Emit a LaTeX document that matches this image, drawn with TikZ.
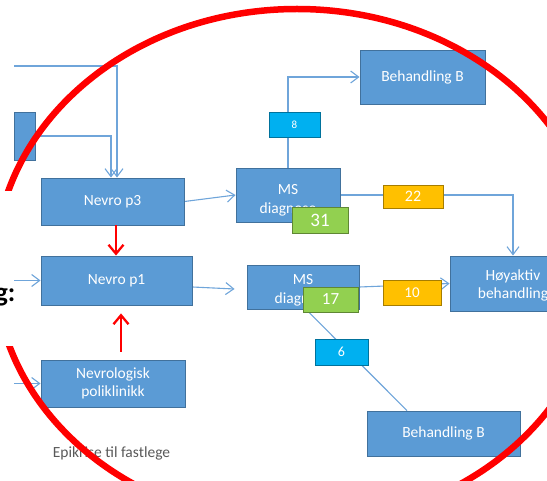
\documentclass[tikz,border=0pt]{standalone}
\usepackage{fontspec}
\setmainfont{Carlito}
\usetikzlibrary{arrows.meta,backgrounds}
\definecolor{boxfill}{HTML}{5B9BD5}
\definecolor{boxline}{HTML}{41719C}
\definecolor{connc}{HTML}{6FA5DA}
\definecolor{cyanbox}{HTML}{00B0F0}
\definecolor{yelbox}{HTML}{FFC000}
\definecolor{grnbox}{HTML}{92D050}
\definecolor{redc}{HTML}{FF0000}
\definecolor{epic}{HTML}{595959}
\begin{document}
\begin{tikzpicture}[x=1pt,y=-1pt,
  bluebox/.style={draw=boxline, fill=boxfill, line width=0.9pt, text=white, inner sep=0pt, align=center, font=\fontsize{15.5}{18.5}\selectfont},
  tagbox/.style={draw=#1!65!black, fill=#1, line width=0.9pt, text=white, inner sep=0pt, align=center},
  conn/.style={draw=connc, line width=1.1pt},
  arr/.style={-{Straight Barb[length=8pt,width=12pt,line width=1.1pt]}},
  redarr/.style={draw=redc, line width=2.3pt, -{Straight Barb[length=9pt,width=15pt,line width=2.3pt]}}
]
\useasboundingbox (0,0) rectangle (547,481);
% nodes
\node[bluebox, minimum width=21pt, minimum height=48pt] (lb) at (24.5,136) {};
\node[bluebox, minimum width=143pt, minimum height=47pt] (p3) at (112.5,201.5) {Nevro p3};
\node[bluebox, minimum width=151pt, minimum height=49pt] (p1) at (116.5,280.5) {Nevro p1};
\node[bluebox, minimum width=144pt, minimum height=47pt] (poli) at (113,383.5) {Nevrologisk\\poliklinikk};
\node[bluebox, minimum width=104pt, minimum height=54pt] (ms1) at (288,195) {\rule{0pt}{21pt}MS\\diagnose};
\node[bluebox, minimum width=112pt, minimum height=44pt] (ms2) at (303,287) {\rule{0pt}{17pt}MS\\diagnose};
\node[bluebox, minimum width=126pt, minimum height=55pt] (hoy) at (513,283.5) {\rule{0pt}{15pt}Høyaktiv\\behandling};
\node[bluebox, minimum width=125pt, minimum height=54pt] (bb1) at (422.5,77) {Behandling B};
\node[bluebox, minimum width=153pt, minimum height=45pt] (bb2) at (443.5,433.5) {Behandling B};
\coordinate (in1) at (14,66);
\coordinate (in2) at (14,280.5);
\coordinate (in3) at (14,383.5);
% tag boxes
\node[tagbox=cyanbox, minimum width=51pt, minimum height=25pt, font=\fontsize{11}{13}\selectfont] (t8) at (294.5,124.5) {8};
\node[tagbox=grnbox, minimum width=56pt, minimum height=26pt, font=\fontsize{19}{21}\selectfont] (t31) at (320,220) {31};
\node[tagbox=yelbox, minimum width=60pt, minimum height=23pt, font=\fontsize{16}{18}\selectfont] (t22) at (413,196.5) {22};
\node[tagbox=yelbox, minimum width=58pt, minimum height=25pt, font=\fontsize{15}{17}\selectfont] (t10) at (412,292.5) {10};
\node[tagbox=grnbox, minimum width=55pt, minimum height=25pt, font=\fontsize{17}{19}\selectfont] (t17) at (330.5,299.5) {17};
\node[tagbox=cyanbox, minimum width=53pt, minimum height=26pt, font=\fontsize{14}{16}\selectfont] (t6) at (341.5,352) {6};
% connectors behind boxes
\begin{scope}[on background layer]
\draw[conn, arr] (in1) -| ([xshift=4.5pt]p3.north);
\draw[conn, arr] (lb.east) -| ([xshift=-1.5pt]p3.north);
\draw[conn, arr] (p3.east) -- (ms1.west);
\draw[conn, arr] (ms1.north) |- (bb1.west);
\draw[conn, arr] (ms1.east) -| (hoy.north);
\draw[conn, arr] ([yshift=-6.5pt]p1.east) -- ([xshift=-12pt,yshift=-2pt]ms2.west);
\draw[conn, arr] (ms2.east) -- (hoy.west);
\draw[conn] ([xshift=3pt]ms2.south) -- ([xshift=-36.5pt]bb2.north);
\draw[conn, arr] (in3) -- (poli.west);
\end{scope}
% red arrows
\draw[redarr] ([xshift=3.5pt]p3.south) -- ([xshift=-0.5pt]p1.north);
\draw[redarr] ([xshift=8pt,yshift=8pt]poli.north) -- ([xshift=4.5pt,yshift=-8pt]p1.south);
% caption
\node[text=epic, font=\fontsize{15.5}{18}\selectfont] (epi) at (111.5,453) {Epikrise til fastlege};
% red ellipse
\draw[redc, line width=6.5pt] (297,267) ellipse [x radius=302, y radius=258];
% white cover at left edge
\fill[white] (-2,191) rectangle (39,346);
\node[anchor=base east, inner sep=0pt, font=\fontsize{27}{30}\bfseries\selectfont] (gtext) at (15.5,302) {g:};
\draw[conn, arr] (in2) -- (p1.west);
\end{tikzpicture}
\end{document}
